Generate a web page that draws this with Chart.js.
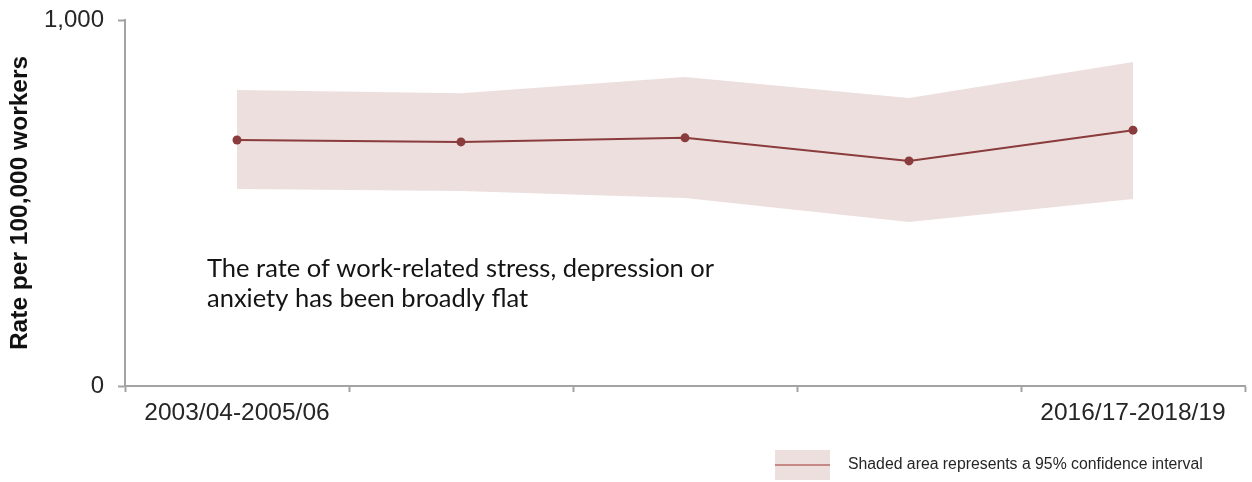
<!DOCTYPE html>
<html>
<head>
<meta charset="utf-8">
<script src="https://cdn.jsdelivr.net/npm/chart.js@4/dist/chart.umd.min.js"></script>
<style>
  html, body { margin: 0; padding: 0; background: #fff; }
  #wrap { width: 1252px; height: 482px; position: relative; }
</style>
</head>
<body>
<div id="wrap"><canvas id="c" width="1252" height="482"></canvas></div>
<script>
// Three-year rolling periods
const periods = ['2003/04-2005/06', '2006/07-2008/09', '2009/10-2011/12', '2012/13-2014/15', '2016/17-2018/19'];
// Rate per 100,000 workers (central estimate)
const rate = [672, 667, 678, 615, 699];
// 95% confidence interval bounds
const upperCI = [809, 800, 844, 787, 885];
const lowerCI = [538, 533, 514, 448, 511];
// Only the first and last periods are labelled on the axis
const shownLabels = ['2003/04-2005/06', '2016/17-2018/19'];
const yTicks = [0, 1000];

const lineColor = '#8a3b3b';
const bandColor = '#eedfdf';
const axisColor = '#a3a3a3';
const textColor = '#262626';

const noteLines = ['The rate of work-related stress, depression or', 'anxiety has been broadly flat'];
const legendText = 'Shaded area represents a 95% confidence interval';

const extras = {
  id: 'extras',
  afterDraw(chart) {
    const ctx = chart.ctx;
    const area = chart.chartArea;
    ctx.save();
    // note inside the plot
    ctx.fillStyle = '#141414';
    ctx.font = '25.5px Lato, "Open Sans", sans-serif';
    ctx.textBaseline = 'alphabetic';
    ctx.textAlign = 'left';
    noteLines.forEach((t, i) => ctx.fillText(t, area.left + 82, area.top + 257 + i * 30));
    // legend key for the shaded band
    const kx = 775, ky = 450, kw = 55, kh = 30;
    ctx.fillStyle = bandColor;
    ctx.fillRect(kx, ky, kw, kh);
    ctx.strokeStyle = '#b86a6a';
    ctx.lineWidth = 1.5;
    ctx.beginPath();
    ctx.moveTo(kx, ky + kh / 2);
    ctx.lineTo(kx + kw, ky + kh / 2);
    ctx.stroke();
    ctx.fillStyle = textColor;
    ctx.font = '15.8px "Liberation Sans", Arial, sans-serif';
    ctx.textBaseline = 'middle';
    ctx.fillText(legendText, 848, ky + kh / 2);
    ctx.restore();
  }
};

new Chart(document.getElementById('c'), {
  type: 'line',
  data: {
    labels: periods,
    datasets: [
      {
        label: 'Rate',
        data: rate,
        borderColor: lineColor,
        backgroundColor: lineColor,
        borderWidth: 2,
        pointRadius: 4.5,
        pointHoverRadius: 4.5,
        pointBackgroundColor: lineColor,
        pointBorderWidth: 0,
        tension: 0,
        fill: false,
        order: 0
      },
      {
        label: 'Upper 95% CI',
        data: upperCI,
        borderWidth: 0,
        borderColor: 'rgba(0,0,0,0)',
        backgroundColor: bandColor,
        pointRadius: 0,
        tension: 0,
        fill: '+1',
        order: 1
      },
      {
        label: 'Lower 95% CI',
        data: lowerCI,
        borderWidth: 0,
        borderColor: 'rgba(0,0,0,0)',
        backgroundColor: bandColor,
        pointRadius: 0,
        tension: 0,
        fill: false,
        order: 1
      }
    ]
  },
  options: {
    responsive: false,
    animation: false,
    events: [],
    layout: { padding: { left: 0, top: 20, right: 7, bottom: 0 } },
    plugins: {
      legend: { display: false },
      tooltip: { enabled: false },
      filler: { propagate: false }
    },
    scales: {
      x: {
        offset: true,
        grid: {
          offset: true,
          drawOnChartArea: false,
          drawTicks: true,
          tickLength: 6,
          tickWidth: 2,
          tickColor: axisColor
        },
        border: { color: axisColor, width: 2 },
        ticks: {
          autoSkip: false,
          maxRotation: 0,
          padding: 7,
          color: textColor,
          font: { family: '"Liberation Sans", Arial, sans-serif', size: 24.5 },
          callback: function (v, i) {
            const l = this.getLabelForValue(v);
            return shownLabels.includes(l) ? l : '';
          }
        },
        afterFit(scale) { scale.height = 96; }
      },
      y: {
        min: 0,
        max: 1000,
        afterBuildTicks(scale) { scale.ticks = yTicks.map(v => ({ value: v })); },
        grid: {
          drawOnChartArea: false,
          drawTicks: true,
          tickLength: 7,
          tickWidth: 2,
          tickColor: axisColor
        },
        border: { color: axisColor, width: 2 },
        ticks: {
          padding: 14,
          color: textColor,
          font: { family: '"Liberation Sans", Arial, sans-serif', size: 24 },
          callback: v => v.toLocaleString('en-GB')
        },
        title: {
          display: true,
          text: 'Rate per 100,000 workers',
          color: '#111',
          padding: { top: 6, bottom: 0 },
          font: { family: '"Liberation Sans", Arial, sans-serif', size: 24.5, weight: 'bold' }
        },
        afterFit(scale) {
          scale.width = 125;
          scale.paddingTop = 0;
          scale.paddingBottom = 0;
        }
      }
    }
  },
  plugins: [extras]
});
</script>
</body>
</html>
